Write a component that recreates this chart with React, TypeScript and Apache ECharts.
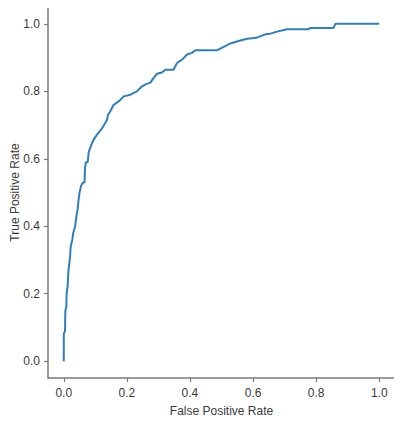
import React, { useEffect, useRef } from "react";
import * as echarts from "echarts";

const fpr: number[] = [0, 0, 0.004, 0.005, 0.008, 0.009, 0.012, 0.015, 0.02, 0.022, 0.027, 0.03, 0.036, 0.04, 0.044, 0.047, 0.05, 0.055, 0.061, 0.066, 0.067, 0.07, 0.076, 0.079, 0.085, 0.094, 0.105, 0.121, 0.137, 0.14, 0.147, 0.158, 0.174, 0.19, 0.211, 0.232, 0.248, 0.262, 0.274, 0.285, 0.295, 0.311, 0.322, 0.348, 0.359, 0.375, 0.391, 0.406, 0.417, 0.486, 0.501, 0.528, 0.554, 0.581, 0.612, 0.639, 0.655, 0.676, 0.707, 0.776, 0.781, 0.855, 0.861, 1.0];
const tpr: number[] = [0, 0.08, 0.09, 0.15, 0.16, 0.2, 0.22, 0.27, 0.31, 0.34, 0.36, 0.38, 0.4, 0.43, 0.45, 0.48, 0.5, 0.52, 0.53, 0.53, 0.57, 0.59, 0.59, 0.62, 0.635, 0.656, 0.671, 0.69, 0.715, 0.73, 0.74, 0.76, 0.77, 0.785, 0.79, 0.8, 0.815, 0.822, 0.825, 0.84, 0.852, 0.856, 0.864, 0.864, 0.884, 0.894, 0.909, 0.914, 0.922, 0.922, 0.929, 0.942, 0.949, 0.956, 0.959, 0.969, 0.971, 0.977, 0.984, 0.984, 0.988, 0.988, 1.0, 1.0];
const tickValues: number[] = [0, 0.2, 0.4, 0.6, 0.8, 1.0];
const xTitle = "False Positive Rate";
const yTitle = "True Positive Rate";

const FONT = "'Liberation Sans', Arial, sans-serif";
const AXIS_COLOR = "#7a7a7a";
const TEXT_COLOR = "#3a3a3a";
const LW = 1.5;
const G = { left: 48, top: 7, width: 347, height: 371 };

export default function App() {
  const ref = useRef<HTMLDivElement>(null);
  useEffect(() => {
    if (!ref.current) return;
    const chart = echarts.init(ref.current, undefined, { renderer: "svg" });
    const base = {
      type: "value" as const,
      min: -0.05,
      max: 1.05,
      splitLine: { show: false },
      axisLine: { show: true, onZero: false, lineStyle: { color: AXIS_COLOR, width: LW } },
      nameLocation: "middle" as const,
      nameMoveOverlap: false,
      nameTextStyle: { color: TEXT_COLOR, fontSize: 12, fontFamily: FONT },
    };
    const label = (margin: number) => ({
      color: TEXT_COLOR,
      fontSize: 12,
      fontFamily: FONT,
      margin,
      customValues: tickValues,
      formatter: (v: number) => v.toFixed(1),
    });
    const tick = { show: true, inside: false, length: 4, lineStyle: { color: AXIS_COLOR, width: 1.2 }, customValues: tickValues };
    chart.setOption({
      animation: false,
      backgroundColor: "#fff",
      grid: { ...G, outerBoundsMode: "none", containLabel: false },
      xAxis: { ...base, name: xTitle, nameGap: 27, axisLabel: label(9), axisTick: tick },
      yAxis: { ...base, name: yTitle, nameGap: 27, axisLabel: label(8), axisTick: tick },
      graphic: [
        {
          type: "polyline",
          silent: true,
          z: 100,
          shape: {
            points: [
              [G.left, G.top],
              [G.left + G.width, G.top],
              [G.left + G.width, G.top + G.height],
            ],
          },
          style: { stroke: "#888888", lineWidth: 2, fill: null },
        },
      ],
      series: [
        {
          type: "line",
          data: fpr.map((x, i) => [x, tpr[i]]),
          showSymbol: false,
          symbol: "none",
          lineStyle: { color: "#2f7fbf", width: 2 },
        },
      ],
    });
    return () => chart.dispose();
  }, []);
  return <div ref={ref} style={{ width: 402, height: 430, margin: -8 }} />;
}
